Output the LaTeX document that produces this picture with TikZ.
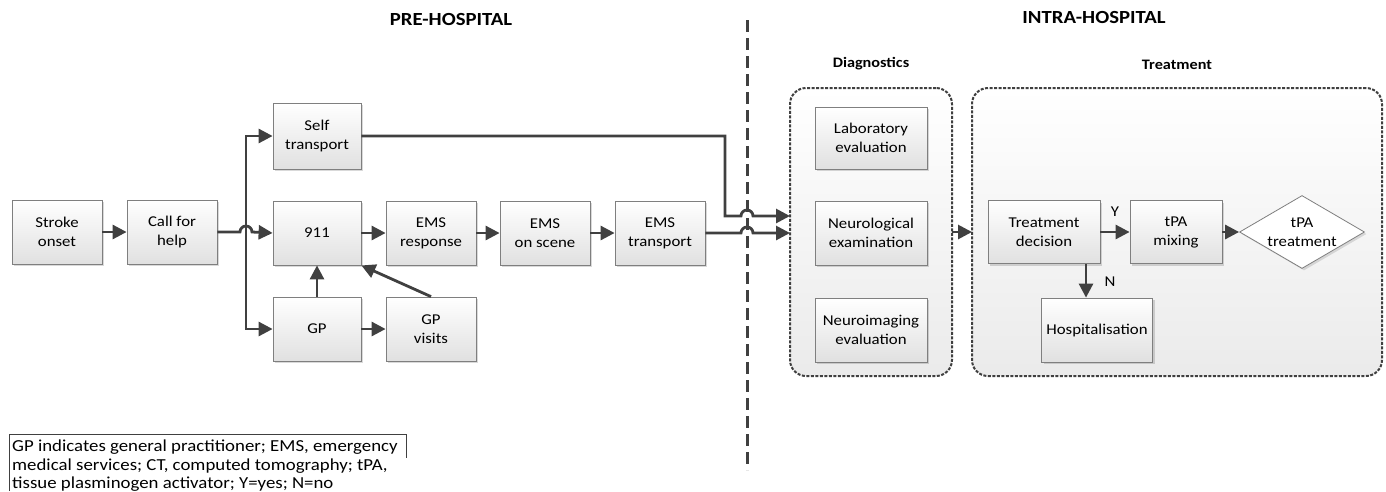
\documentclass[tikz,border=0pt]{standalone}
\usepackage{fontspec}
\setmainfont{Carlito}[FakeStretch=1.12]
\usetikzlibrary{arrows.meta,shapes.geometric,shadows,calc}
\definecolor{ln}{HTML}{404040}
\definecolor{bd}{HTML}{7F7F7F}
\begin{document}
\begin{tikzpicture}[x=1pt,y=-1pt,
 box/.style={draw=bd, line width=0.8pt, top color=white, bottom color=black!12, minimum width=90pt, minimum height=64pt, inner sep=1pt, align=center, font=\fontsize{15}{19}\selectfont, drop shadow={shadow xshift=2pt, shadow yshift=-2pt, opacity=0.15, fill=black}},
 arr/.style={draw=ln, line width=2.8pt, -{Triangle[length=14pt,width=14pt]}},
 grp/.style={draw=ln, line width=2pt, dash pattern=on 3pt off 1.5pt, rounded corners=16pt, top color=white, bottom color=black!8, inner sep=0pt, outer sep=0pt},
 ttl/.style={font=\bfseries\fontsize{18.5}{22}\selectfont},
 sub/.style={font=\bfseries\fontsize{14.5}{17}\selectfont},
 lbl/.style={font=\fontsize{15}{18}\selectfont}]
\useasboundingbox (0,0) rectangle (1386,491);
% titles
\node[ttl] (pre) at (451,19) {PRE-HOSPITAL};
\node[ttl] (intra) at (1094,17) {INTRA-HOSPITAL};
\node[sub] (diagt) at (871,64) {Diagnostics};
\node[sub] (treatt) at (1177,65) {Treatment};
% groups
\node[grp, minimum width=162pt, minimum height=288pt] (diag) at (871,232) {};
\node[grp, minimum width=410pt, minimum height=288pt] (treat) at (1177,232) {};
% divider
\coordinate (dtop) at (747,20);
\coordinate (dbot) at (747,470);
\draw[draw=ln, line width=3pt, dash pattern=on 12pt off 6pt] (dtop) -- (dbot);
% pre-hospital boxes
\node[box] (stroke) at (57,232) {Stroke\\onset};
\node[box] (call) at (172,232) {Call for\\help};
\node[box, minimum width=88pt, minimum height=66pt] (self) at (317,136) {Self\\transport};
\node[box, minimum width=88pt] (n911) at (317,233) {911};
\node[box, minimum width=88pt] (gp) at (317,329) {GP};
\node[box] (emsr) at (431,233) {EMS\\response};
\node[box] (emss) at (545,233) {EMS\\on scene};
\node[box] (emst) at (660,233) {EMS\\transport};
\node[box] (gpv) at (431,329) {GP\\visits};
% diagnostics boxes
\node[box, minimum width=112pt, minimum height=62pt] (lab) at (871,138) {Laboratory\\evaluation};
\node[box, minimum width=112pt, minimum height=64pt] (neuro) at (871,233) {Neurological\\examination};
\node[box, minimum width=112pt, minimum height=64pt] (nimg) at (871,330) {Neuroimaging\\evaluation};
% treatment
\node[box, minimum width=112pt, minimum height=63pt] (dec) at (1044,232) {Treatment\\decision};
\node[box, minimum width=92pt, minimum height=63pt] (mix) at (1176,232) {tPA\\mixing};
\node[diamond, draw=bd, line width=0.8pt, fill=white, aspect=1.7, minimum width=125pt, minimum height=73pt, inner sep=0pt, align=center, font=\fontsize{15}{19}\selectfont, drop shadow={shadow xshift=2pt, shadow yshift=-2pt, opacity=0.12, fill=black}] (tpa) at (1302,232) {tPA\\treatment};
\node[box, minimum width=111pt, minimum height=64pt] (hosp) at (1097,330) {Hospitalisation};
% connectors pre-hospital
\draw[arr] (stroke) -- (call);
\coordinate (trunk) at (246,232);
\draw[arr] (trunk) |- (self.west);
\draw[arr] (trunk) |- (gp.west);
\draw[arr] (call.east) -- (240,232) arc[start angle=180,end angle=360,radius=6] -- (n911.west);
\draw[arr] (n911) -- (emsr);
\draw[arr] (emsr) -- (emss);
\draw[arr] (emss) -- (emst);
\draw[arr] (gp) -- (gpv);
\draw[arr] (gp.north) -- (n911.south);
\draw[arr] (gpv.north) -- (n911.south east);
\coordinate (sj) at (725,216);
\draw[arr] (self.east) -| (sj) -- (741,216) arc[start angle=180,end angle=360,radius=6] -- (sj -| diag.west);
\draw[arr] (emst.east) -- (741,233) arc[start angle=180,end angle=360,radius=6] -- (emst.east -| diag.west);
% intra-hospital
\draw[arr] (diag.east) -- (treat.west);
\draw[arr] (dec) -- (mix);
\draw[arr] (mix) -- (tpa);
\draw[arr] ([xshift=42pt]dec.south) -- ([xshift=42pt]dec.south |- hosp.north);
\node[lbl] (ylab) at (1115,212) {Y};
\node[lbl] (nlab) at (1110,282) {N};
% legend
\node[anchor=north west, align=left, inner sep=0pt, font=\fontsize{16.8}{18.2}\selectfont] (leg) at (12,440) {GP indicates general practitioner; EMS, emergency\\medical services; CT, computed tomography; tPA,\\tissue plasminogen activator; Y=yes; N=no};
\draw[draw=ln, line width=0.8pt] (9,491) -- (9,434) -- (406,434) -- (406,458);
\end{tikzpicture}
\end{document}
